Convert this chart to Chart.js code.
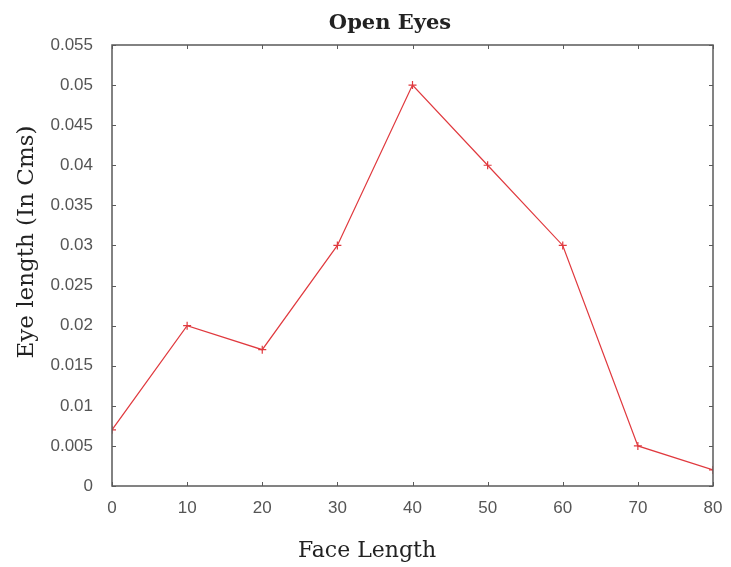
<!DOCTYPE html>
<html>
<head>
<meta charset="utf-8">
<script src="https://cdn.jsdelivr.net/npm/chart.js@4"></script>
<style>
  html, body { margin: 0; padding: 0; background: #fff; }
  #wrap { width: 731px; height: 567px; }
</style>
</head>
<body>
<div id="wrap"><canvas id="eye-chart" width="731" height="567"></canvas></div>
<script>
const faceLength = [0, 10, 20, 30, 40, 50, 60, 70, 80];
const eyeLength = [0.007, 0.020, 0.017, 0.030, 0.050, 0.040, 0.030, 0.005, 0.002];

const chartTitle = 'Open Eyes';
const xTitle = 'Face Length';
const yTitle = 'Eye length (In Cms)';

const axisColor = '#5a5a5a';
const lineColor = '#e0393e';

// gnuplot style frame: box round the plot and small inward ticks on all sides
const frame = {
    id: 'frame',
    afterDraw(chart) {
        const { ctx, chartArea: a, scales: { x, y } } = chart;
        ctx.save();
        ctx.strokeStyle = axisColor;
        ctx.lineWidth = 1.5;
        ctx.strokeRect(a.left, a.top, a.right - a.left, a.bottom - a.top);
        ctx.lineWidth = 1;
        ctx.beginPath();
        x.ticks.forEach(t => {
            const px = Math.round(x.getPixelForValue(t.value)) + 0.5;
            ctx.moveTo(px, a.bottom); ctx.lineTo(px, a.bottom - 4);
            ctx.moveTo(px, a.top); ctx.lineTo(px, a.top + 4);
        });
        y.ticks.forEach(t => {
            const py = Math.round(y.getPixelForValue(t.value)) + 0.5;
            ctx.moveTo(a.left, py); ctx.lineTo(a.left + 4, py);
            ctx.moveTo(a.right, py); ctx.lineTo(a.right - 4, py);
        });
        ctx.stroke();

        // titles
        ctx.fillStyle = '#222';
        ctx.textAlign = 'center';
        ctx.textBaseline = 'alphabetic';
        ctx.font = 'bold 21px "DejaVu Serif"';
        ctx.fillText(chartTitle, 390, 29);
        ctx.font = '22px "DejaVu Serif"';
        ctx.fillText(xTitle, 367, 557);
        ctx.translate(33, 242);
        ctx.rotate(-Math.PI / 2);
        ctx.font = '23px "DejaVu Serif"';
        ctx.fillText(yTitle, 0, 0);
        ctx.restore();
    }
};

new Chart(document.querySelector('#eye-chart').getContext('2d'), {
    type: 'line',
    data: {
        datasets: [{
            data: faceLength.map((f, i) => ({ x: f, y: eyeLength[i] })),
            borderColor: lineColor,
            backgroundColor: lineColor,
            borderWidth: 1.2,
            pointStyle: 'cross',
            pointRadius: 4,
            pointBorderWidth: 1.2,
            tension: 0,
            fill: false
        }]
    },
    options: {
        responsive: false,
        animation: false,
        layout: { padding: { top: 45, right: 18, bottom: 0, left: 0 } },
        plugins: {
            legend: { display: false },
            tooltip: { enabled: false },
            title: { display: false }
        },
        scales: {
            x: {
                type: 'linear',
                min: 0,
                max: 80,
                grid: { display: false, drawTicks: false },
                border: { display: false },
                afterFit: scale => {
                    scale.height = 81;
                    scale.paddingLeft = 0;
                    scale.paddingRight = 0;
                },
                ticks: {
                    stepSize: 10,
                    padding: 12,
                    color: '#555',
                    font: { family: '"Liberation Sans"', size: 17 }
                }
            },
            y: {
                min: 0,
                max: 0.055,
                grid: { display: false, drawTicks: false },
                border: { display: false },
                afterFit: scale => { scale.width = 112; },
                ticks: {
                    stepSize: 0.005,
                    autoSkip: false,
                    padding: 19,
                    color: '#555',
                    font: { family: '"Liberation Sans"', size: 17 },
                    callback: v => String(+v.toFixed(3))
                }
            }
        }
    },
    plugins: [frame]
});
</script>
</body>
</html>
